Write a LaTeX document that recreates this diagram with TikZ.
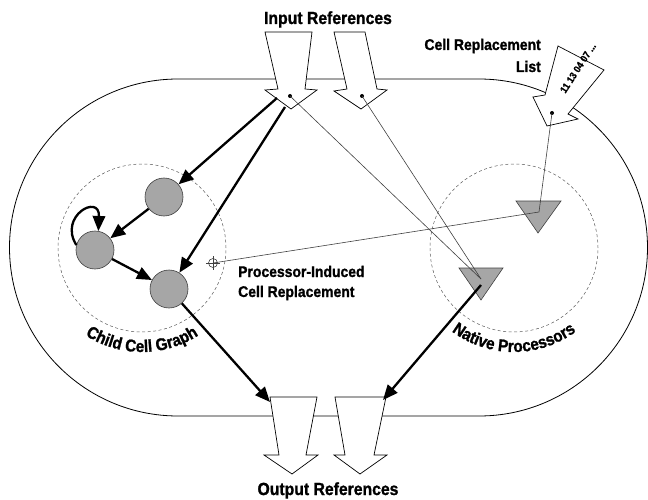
\documentclass[tikz,border=0pt]{standalone}
\usepackage{fontspec}
\setmainfont{Liberation Sans}[FakeStretch=0.9,BoldFeatures={FakeBold=1.2}]
\usetikzlibrary{arrows.meta,decorations.text}
\definecolor{cellgray}{RGB}{166,166,166}
\begin{document}
\begin{tikzpicture}[x=1pt,y=1pt,
  cell/.style={circle,draw=black!75,fill=cellgray,line width=0.6pt,minimum size=38pt,inner sep=0pt},
  bigarrow/.style={draw=black,fill=white,line width=0.7pt,line join=miter},
  wire/.style={draw=black!75,line width=0.6pt},
  flow/.style={draw=black,line width=2.3pt,-{Triangle[length=15pt,width=12.5pt]}},
  zone/.style={draw=black!65,dash pattern=on 3pt off 2.5pt,line width=0.5pt},
  lab/.style={font=\bfseries\fontsize{15.5}{15.5}\selectfont,inner sep=0pt},
  biglab/.style={font=\bfseries\fontsize{17.5}{17.5}\selectfont,inner sep=0pt},
  proc/.style={draw=black!75,fill=cellgray,line width=0.6pt,line join=miter}
]
\useasboundingbox (0,0) rectangle (648,-500);

% outer stadium
\draw[line width=0.8pt] (178,-79) -- (479,-79) arc[start angle=90,end angle=-90,radius=168.5]
  -- (178,-416) arc[start angle=270,end angle=90,radius=168.5] -- cycle;

% dashed zones
\draw[zone] (142,-248) circle[radius=84];
\draw[zone] (514,-248) circle[radius=84];

% input arrows
\draw[bigarrow] (265,-32) -- (312,-32) -- (305,-89) -- (317,-90) -- (291,-109) -- (265,-90) -- (278,-89) -- cycle;
\draw[bigarrow] (334,-32) -- (365,-32) -- (377,-89) -- (387,-90) -- (361,-109) -- (334,-91) -- (347,-89) -- cycle;

% output arrows
\draw[bigarrow] (270,-397) -- (317,-397) -- (306,-455) -- (318,-455) -- (292,-474) -- (264,-455) -- (279,-455) -- cycle;
\draw[bigarrow] (335,-397) -- (386,-397) -- (374,-455) -- (387,-455) -- (360,-474) -- (334,-455) -- (345,-455) -- cycle;

% cell replacement list arrow
\draw[bigarrow] (558,-46) -- (604,-70) -- (568,-114) -- (578,-119) -- (547,-126) -- (533,-97) -- (545,-95) -- cycle;
\node[rotate=57,inner sep=0pt,font=\bfseries\fontsize{10}{10}\selectfont] (codes) at (578,-68) {11 13 04 07 ...};

% dots
\coordinate (d1) at (290,-96);
\coordinate (d2) at (362,-96);
\coordinate (d3) at (552,-113);
\fill (d1) circle[radius=2];
\fill (d2) circle[radius=2];
\fill (d3) circle[radius=2];

% cells
\node[cell] (A) at (164,-197) {};
\node[cell] (B) at (95,-250) {};
\node[cell] (C) at (169,-289) {};

% processors
\draw[proc] (516,-201) -- (561,-201) -- (538,-233) -- cycle;
\draw[proc] (459,-268) -- (503,-268) -- (481,-300) -- cycle;
\coordinate (T1p) at (539,-212);
\coordinate (T2p) at (481,-279);
\coordinate (T2s) at (481,-285);

% crosshair
\coordinate (X) at (213,-263);
\draw[wire] (X) circle[radius=4.5];
\draw[wire] (206,-263) -- (220,-263) (213,-256) -- (213,-270);

% thin wires
\draw[wire] (d1) -- (T2p);
\draw[wire] (d2) -- (T2p);
\draw[wire] (d3) -- (T1p);
\draw[wire] (T1p) -- (X);

% flow arrows
\coordinate (s1) at (277,-98);
\coordinate (s2) at (285,-107);
\coordinate (o3) at (270,-402);
\coordinate (o4) at (383,-400);
\draw[flow] (s1) -- (A);
\draw[flow] (s2) -- (C);
\draw[flow] (A) -- (B);
\draw[flow] (B) -- (C);
\draw[flow] (B.165) .. controls (58,-216) and (100,-193) .. (B.80);
\draw[flow] (C) -- (o3);
\draw[flow] (T2s) -- (o4);

% labels
\node[biglab,anchor=base] (inref) at (328,-24) {Input References};
\node[biglab,anchor=base] (outref) at (328,-495) {Output References};
\node[lab,anchor=base east] (crl1) at (541,-50) {Cell Replacement};
\node[lab,anchor=base east] (crl2) at (541,-72) {List};
\node[lab,anchor=base west] (pic1) at (238,-277) {Processor-Induced};
\node[lab,anchor=base west] (pic2) at (238,-297) {Cell Replacement};

\path[decorate,decoration={text along path,text align=center,
  text={|\bfseries\fontsize{17}{17}\selectfont|Child Cell Graph}}]
  (142,-248) ++(205:104) arc[start angle=205,end angle=335,radius=104];
\path[decorate,decoration={text along path,text align=center,
  text={|\bfseries\fontsize{17}{17}\selectfont|Native Processors}}]
  (514,-248) ++(205:104) arc[start angle=205,end angle=335,radius=104];
\end{tikzpicture}
\end{document}
